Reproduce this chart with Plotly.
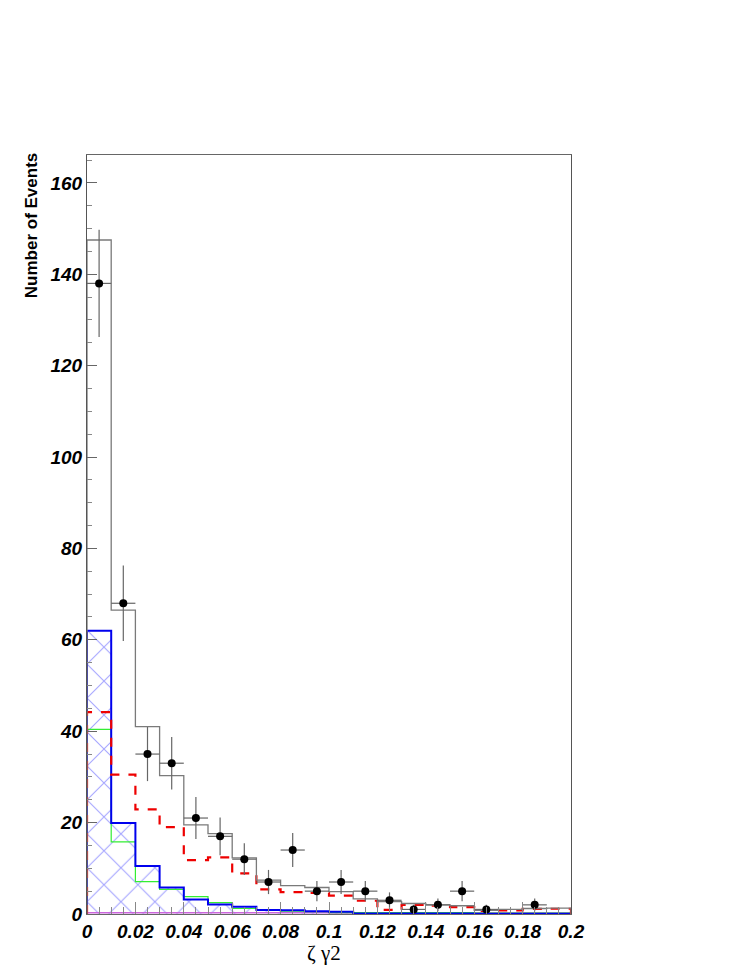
import numpy as np
import plotly.graph_objects as go

bin_edges = [round(i * 0.01, 2) for i in range(21)]
data_counts = [138, 68, 35, 33, 21, 17, 12, 7, 14, 5, 7, 5, 3, 1, 2, 5, 1, 0, 2, 0]
total_mc = [147.5, 66.5, 41, 30.3, 19.5, 17.6, 12.3, 7.4, 6.2, 5.8, 4.9, 3.3, 2.7, 2.3, 2.0, 1.8, 0.8, 1.0, 1.2, 1.3]
red_mc = [44.2, 30.5, 22.9, 19.0, 11.8, 12.4, 8.9, 5.4, 4.8, 4.6, 4.0, 2.9, 0.9, 2.0, 1.8, 1.5, 0.7, 0.8, 1.1, 1.15]
blue_mc = [62, 19.9, 10.5, 5.8, 3.2, 2.1, 1.6, 0.9, 0.8, 0.6, 0.5, 0.1, 0.1, 0.1, 0.1, 0.1, 0.05, 0.05, 0.05, 0.05]
green_mc = [40.4, 15.8, 7.1, 5.4, 3.8, 2.5, 1.2, 0.9, 0.6, 0.5, 0.3, 0.3, 0.3, 0.3, 0.3, 0.3, 0.2, 0.2, 0.2, 0.2]
violet_mc = [0.3, 0.3, 0.3, 0.3, 0.3, 0.3, 0.3, 0.3, 0.3, 0.3, 0.2, 0.2, 0.2, 0.2, 0.2, 0.2, 0.2, 0.2, 0.2, 0.2]
x_ticks = [0, 0.02, 0.04, 0.06, 0.08, 0.1, 0.12, 0.14, 0.16, 0.18, 0.2]
x_tick_labels = ["0", "0.02", "0.04", "0.06", "0.08", "0.1", "0.12", "0.14", "0.16", "0.18", "0.2"]
y_ticks = [0, 20, 40, 60, 80, 100, 120, 140, 160]

edges = np.array(bin_edges)
centers = (edges[:-1] + edges[1:]) / 2
widths = edges[1:] - edges[:-1]


def step(vals):
    xs = [edges[0]] + list(edges) + [edges[-1]]
    ys = [0] + list(vals) + [vals[-1]] + [0]
    return xs, ys


fig = go.Figure()

# blue cross-hatched fill
fig.add_trace(go.Bar(
    x=centers, y=blue_mc, width=widths,
    marker=dict(color="rgba(0,0,0,0)", line=dict(width=0),
                pattern=dict(shape="x", fgcolor="rgba(40,40,255,0.85)", size=24, solidity=0.09)),
    showlegend=False, hoverinfo="skip"))

for vals, color, dash, w in [
    (violet_mc, "#cc66dd", "solid", 1.5),
    (green_mc, "#33ee33", "solid", 1.2),
    (blue_mc, "#0000ee", "solid", 2),
    (red_mc, "#ee0000", "dash", 2.2),
    (total_mc, "#7a7a7a", "solid", 1.3),
]:
    xs, ys = step(vals)
    fig.add_trace(go.Scatter(x=xs, y=ys, mode="lines", line=dict(color=color, width=w, dash=dash, shape="hv"),
                             showlegend=False, hoverinfo="skip"))

# data points
dx = [c for c, n in zip(centers, data_counts) if n > 0]
dy = [n for n in data_counts if n > 0]
fig.add_trace(go.Scatter(
    x=dx, y=dy, mode="markers",
    marker=dict(color="black", size=8),
    error_y=dict(type="data", array=[np.sqrt(n) for n in dy], color="#666666", thickness=1.2, width=0),
    error_x=dict(type="data", array=[0.005] * len(dx), color="#666666", thickness=1.2, width=0),
    showlegend=False))

tickfont = dict(family="Liberation Sans, Arial, sans-serif", size=19, color="black", weight="bold", style="italic")

fig.update_layout(
    width=747, height=967,
    margin=dict(l=87, r=176, t=155, b=53),
    paper_bgcolor="white", plot_bgcolor="white",
    bargap=0, barmode="overlay",
    xaxis=dict(range=[0, 0.2], tickmode="array", tickvals=x_ticks, ticktext=x_tick_labels,
               ticks="inside", ticklen=12, tickcolor="#888", tickfont=tickfont,
               minor=dict(dtick=0.005, ticks="inside", ticklen=7, tickcolor="#888"),
               showgrid=False, zeroline=False, showline=True, mirror=True, linecolor="#666", linewidth=1),
    yaxis=dict(range=[0, 166.1], tickmode="array", tickvals=y_ticks,
               ticks="inside", ticklen=10, tickcolor="#666", tickfont=tickfont,
               minor=dict(dtick=5, ticks="inside", ticklen=5, tickcolor="#888"),
               showgrid=False, zeroline=False, showline=True, mirror=True, linecolor="#555", linewidth=1),
    annotations=[
        dict(text="<b>Number of Events</b>", xref="paper", yref="paper", x=0, y=1.005,
             xanchor="right", yanchor="top", xshift=-44, textangle=-90, showarrow=False,
             font=dict(family="Liberation Sans, Arial, sans-serif", size=17, color="black")),
        dict(text="ζ γ2", xref="paper", yref="paper", x=0.49, y=0, xanchor="center", yanchor="top",
             yshift=-25, showarrow=False,
             font=dict(family="Liberation Serif, Times New Roman, serif", size=21, color="black")),
    ],
)

fig.write_html("out.html", config={"displayModeBar": False},
               post_script="document.body.style.margin='0';document.body.style.overflow='hidden';")
